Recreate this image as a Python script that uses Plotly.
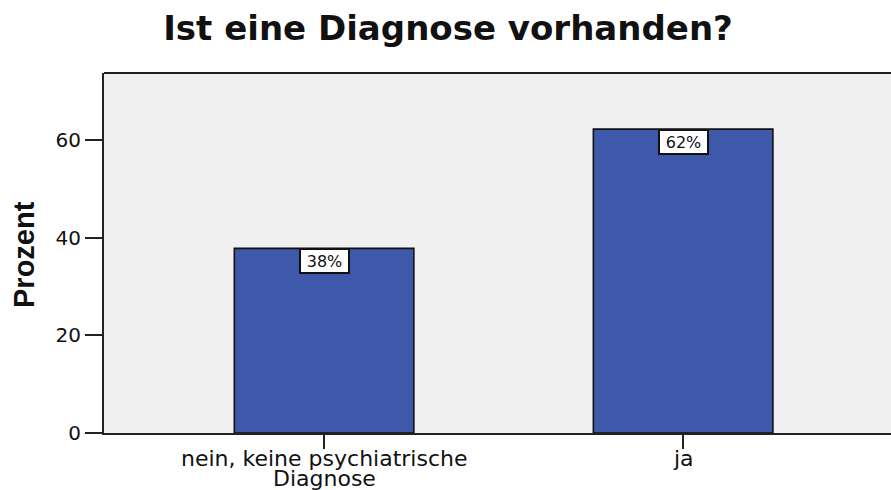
import plotly.graph_objects as go

# ---- data ----
categories = ["nein, keine psychiatrische Diagnose", "ja"]
label_lines = [["nein, keine psychiatrische", "Diagnose"], ["ja"]]
percent = [37.8, 62.2]
bar_labels = ["38%", "62%"]
y_ticks = [0, 20, 40, 60]

title_text = "Ist eine Diagnose vorhanden?"
y_title = "Prozent"

W, H = 891, 490
L, T, B, R = 104, 73, 57, 0
plot_h = H - T - B

x_idx = list(range(len(categories)))

fig = go.Figure()
fig.add_trace(go.Bar(
    x=x_idx, y=percent, width=0.5,
    marker=dict(color="#3e58aa", line=dict(color="#111111", width=1.6)),
    hoverinfo="skip",
))

annotations = []
for xi, v, lab in zip(x_idx, percent, bar_labels):
    annotations.append(dict(
        x=xi, y=v, xref="x", yref="y", text=lab, showarrow=False,
        xanchor="center", yanchor="top",
        font=dict(family="DejaVu Sans", size=16, color="#111111"),
        bgcolor="white", bordercolor="#111111", borderwidth=2, borderpad=0,
        width=47, height=22,
    ))

# category labels (two-line, tight spacing)
line_centers_px = [458, 478]
for xi, lines in zip(x_idx, label_lines):
    for k, line in enumerate(lines):
        annotations.append(dict(
            x=xi, xref="x", yref="paper",
            y=(plot_h + T - line_centers_px[k]) / plot_h,
            text=line, showarrow=False, xanchor="center", yanchor="middle",
            font=dict(family="DejaVu Sans", size=22, color="#111111"),
        ))

# y axis title
annotations.append(dict(
    x=(24 - L) / (W - L - R), xref="paper", y=(H - B - 255) / plot_h, yref="paper",
    text="<b>%s</b>" % y_title, textangle=-90, showarrow=False,
    xanchor="center", yanchor="middle",
    font=dict(family="Liberation Sans", size=29, color="#111111"),
))

fig.update_layout(
    width=W, height=H,
    margin=dict(l=L, r=R, t=T, b=B, pad=0),
    paper_bgcolor="white", plot_bgcolor="#f0f0f0",
    showlegend=False,
    title=dict(text="<b>%s</b>" % title_text, x=448 / W, xref="container", xanchor="center",
               y=1 - 28 / H, yref="container", yanchor="middle",
               font=dict(family="DejaVu Sans", size=34, color="#111111")),
    annotations=annotations,
    shapes=[dict(type="line", xref="paper", yref="paper", x0=0, x1=1, y0=1, y1=1,
                 line=dict(color="#222222", width=2))],
)
fig.update_xaxes(
    range=[-0.613, 1.579], tickvals=x_idx, ticktext=["" for _ in x_idx],
    ticks="outside", ticklen=14, tickwidth=2, tickcolor="#222222",
    showline=True, linecolor="#222222", linewidth=2,
    showgrid=False, zeroline=False, fixedrange=True,
)
fig.update_yaxes(
    range=[0, 73.7], tickvals=y_ticks,
    ticks="outside", ticklen=17, tickwidth=2, tickcolor="#222222",
    tickfont=dict(family="DejaVu Sans", size=20, color="#111111"),
    showline=True, linecolor="#222222", linewidth=2,
    showgrid=False, zeroline=False, fixedrange=True,
)

fig.write_html("out.html", config={"displayModeBar": False},
               post_script="document.body.style.margin='0';document.body.style.overflow='hidden';")
